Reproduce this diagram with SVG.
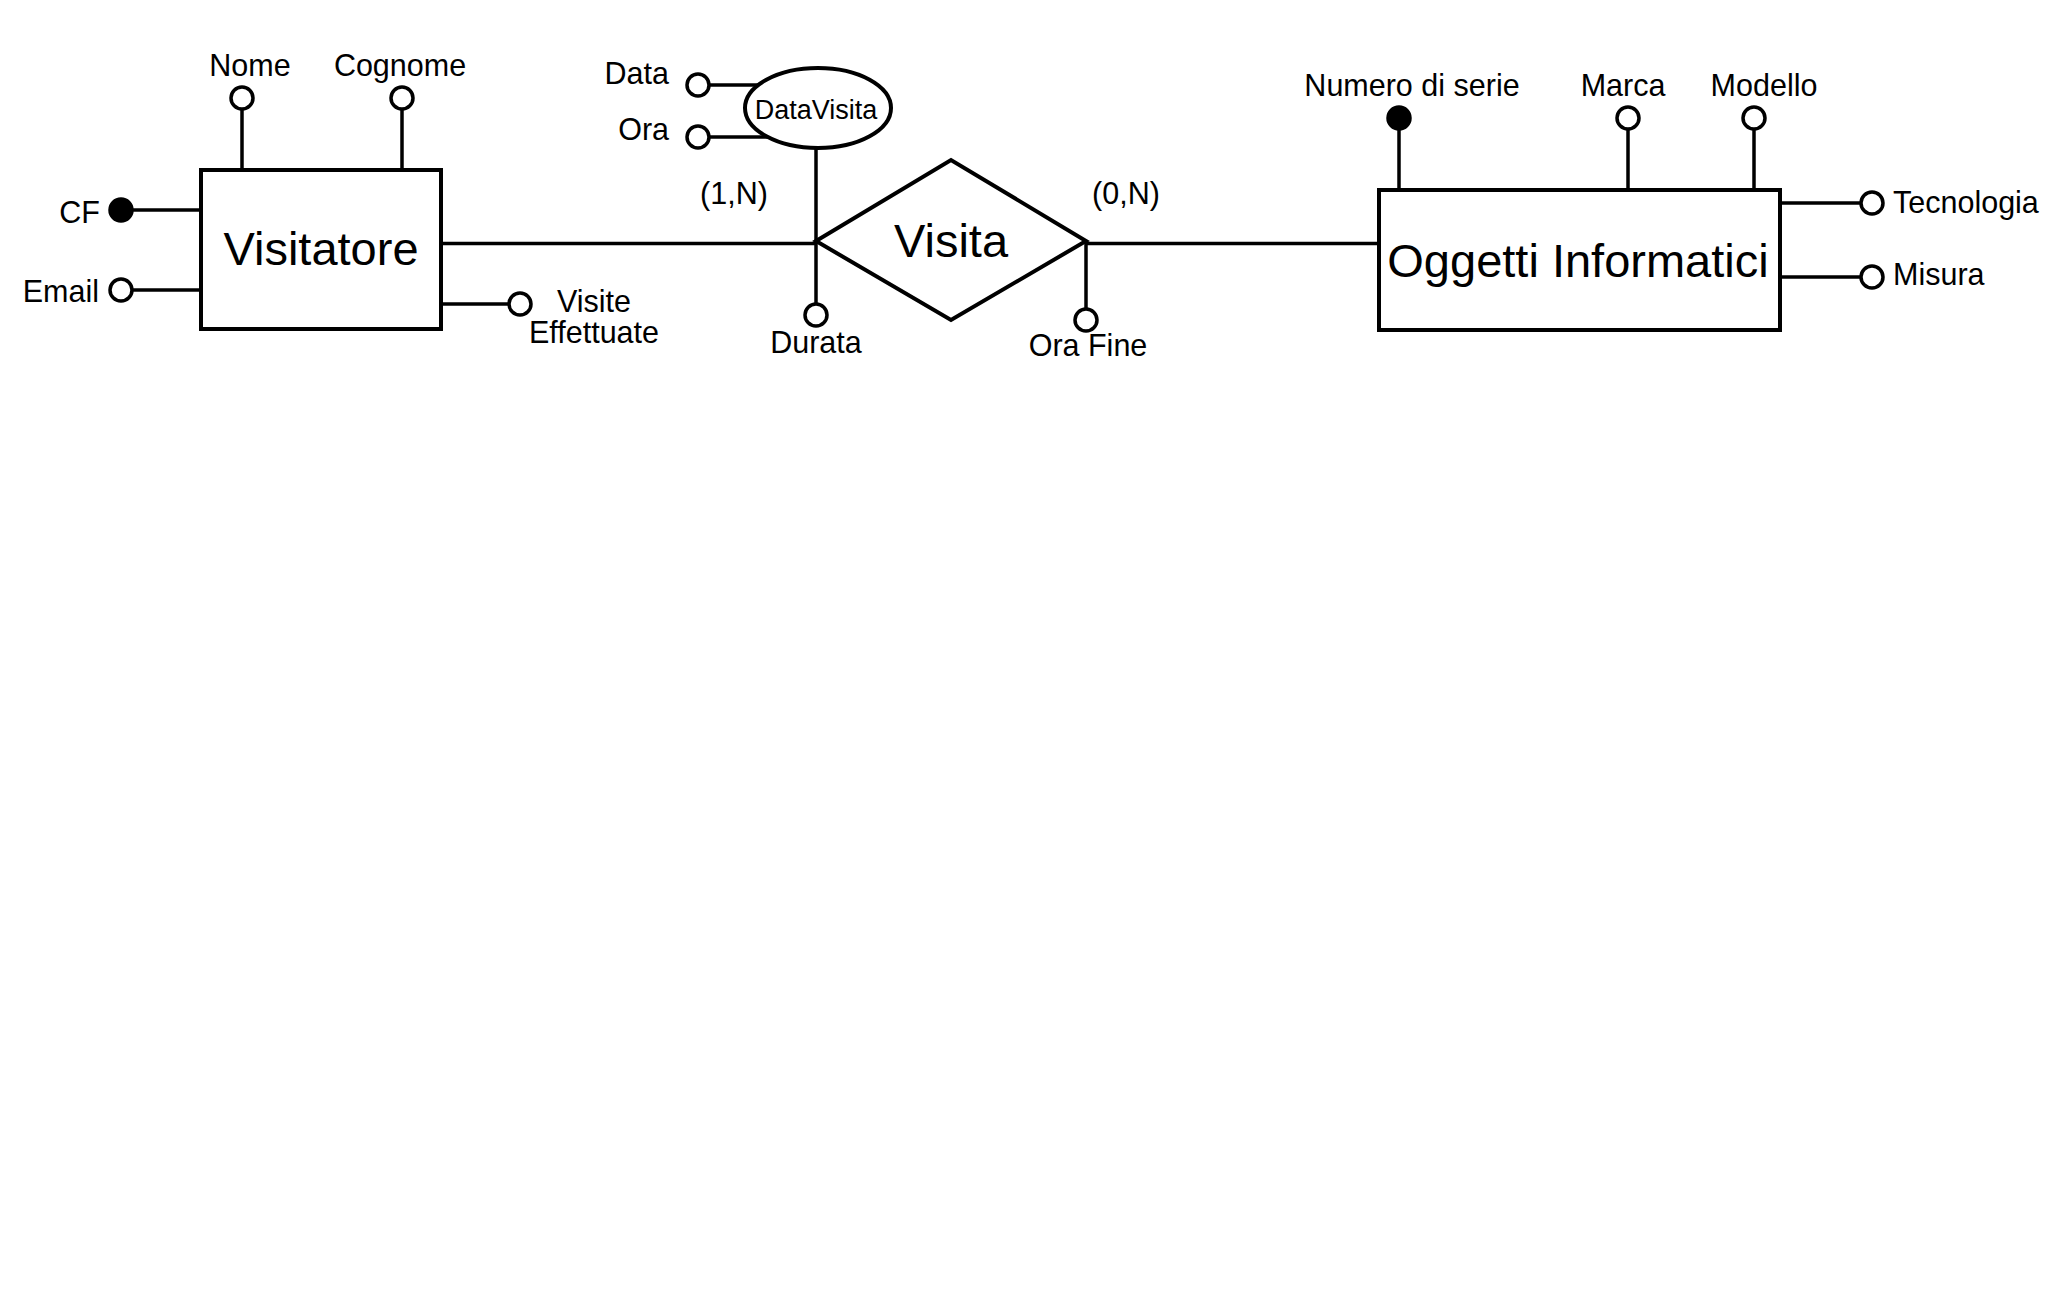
<svg xmlns="http://www.w3.org/2000/svg" width="2064" height="1300" viewBox="0 0 2064 1300">
<style>
  .box { fill: #ffffff; stroke: #000000; stroke-width: 4; }
  .ln { stroke: #000000; stroke-width: 3.5; fill: none; }
  .att { fill: #ffffff; stroke: #000000; stroke-width: 3.5; }
  .key { fill: #000000; stroke: #000000; stroke-width: 3.5; }
  text { font-family: "Liberation Sans", Arial, Helvetica, sans-serif; fill: #000000; dominant-baseline: central; }
  .big { font-size: 47px; text-anchor: middle; }
  .lbl { font-size: 30.5px; }
  .mid { text-anchor: middle; }
  .end { text-anchor: end; }
  .small { font-size: 27px; text-anchor: middle; }
</style>
<rect width="2064" height="1300" fill="#ffffff"/>
<g id="connectors">
  <line class="ln" x1="441" y1="243.5" x2="816" y2="243.5"/>
  <line class="ln" x1="1086" y1="243.5" x2="1379" y2="243.5"/>
  <line class="ln" x1="242" y1="109" x2="242" y2="170"/>
  <line class="ln" x1="402" y1="109" x2="402" y2="170"/>
  <line class="ln" x1="132" y1="210" x2="201" y2="210"/>
  <line class="ln" x1="132" y1="290" x2="201" y2="290"/>
  <line class="ln" x1="441" y1="304" x2="509" y2="304"/>
  <line class="ln" x1="816" y1="149" x2="816" y2="304"/>
  <line class="ln" x1="1086" y1="241" x2="1086" y2="309"/>
  <line class="ln" x1="709" y1="85" x2="760" y2="85"/>
  <line class="ln" x1="709" y1="137" x2="771" y2="137"/>
  <line class="ln" x1="1399" y1="129" x2="1399" y2="190"/>
  <line class="ln" x1="1628" y1="129" x2="1628" y2="190"/>
  <line class="ln" x1="1754" y1="129" x2="1754" y2="190"/>
  <line class="ln" x1="1780" y1="203" x2="1861" y2="203"/>
  <line class="ln" x1="1780" y1="277" x2="1861" y2="277"/>
</g>
<g id="Visitatore">
  <rect class="box" x="201" y="170" width="240" height="159"/>
  <text class="big" x="321" y="248">Visitatore</text>
</g>
<g id="attr-Nome">
  <circle class="att" cx="242" cy="98" r="11"/>
  <text class="lbl mid" x="250" y="65">Nome</text>
</g>
<g id="attr-Cognome">
  <circle class="att" cx="402" cy="98" r="11"/>
  <text class="lbl mid" x="400" y="65">Cognome</text>
</g>
<g id="attr-CF">
  <circle class="key" cx="121" cy="210" r="11"/>
  <text class="lbl end" x="100" y="212">CF</text>
</g>
<g id="attr-Email">
  <circle class="att" cx="121" cy="290" r="11"/>
  <text class="lbl end" x="99" y="291">Email</text>
</g>
<g id="attr-VisiteEffettuate">
  <circle class="att" cx="520" cy="304" r="11"/>
  <text class="lbl mid" x="594" y="301">Visite</text>
  <text class="lbl mid" x="594" y="332">Effettuate</text>
</g>
<g id="Visita">
  <polygon class="box" points="816,241 951,160 1086,241 951,320"/>
  <text class="big" x="951" y="240">Visita</text>
</g>
<g id="card-1N">
  <text class="lbl mid" x="734" y="193">(1,N)</text>
</g>
<g id="card-0N">
  <text class="lbl mid" x="1126" y="193">(0,N)</text>
</g>
<g id="DataVisita">
  <ellipse class="box" cx="818" cy="108" rx="73" ry="40"/>
  <text class="small" x="816" y="110">DataVisita</text>
</g>
<g id="attr-Data">
  <circle class="att" cx="698" cy="85" r="11"/>
  <text class="lbl end" x="669" y="73">Data</text>
</g>
<g id="attr-Ora">
  <circle class="att" cx="698" cy="137" r="11"/>
  <text class="lbl end" x="669" y="129">Ora</text>
</g>
<g id="attr-Durata">
  <circle class="att" cx="816" cy="315" r="11"/>
  <text class="lbl mid" x="816" y="342">Durata</text>
</g>
<g id="attr-OraFine">
  <circle class="att" cx="1086" cy="320" r="11"/>
  <text class="lbl mid" x="1088" y="345">Ora Fine</text>
</g>
<g id="OggettiInformatici">
  <rect class="box" x="1379" y="190" width="401" height="140"/>
  <text class="big" x="1578" y="260">Oggetti Informatici</text>
</g>
<g id="attr-NumeroSerie">
  <circle class="key" cx="1399" cy="118" r="11"/>
  <text class="lbl mid" x="1412" y="85">Numero di serie</text>
</g>
<g id="attr-Marca">
  <circle class="att" cx="1628" cy="118" r="11"/>
  <text class="lbl mid" x="1623" y="85">Marca</text>
</g>
<g id="attr-Modello">
  <circle class="att" cx="1754" cy="118" r="11"/>
  <text class="lbl mid" x="1764" y="85">Modello</text>
</g>
<g id="attr-Tecnologia">
  <circle class="att" cx="1872" cy="203" r="11"/>
  <text class="lbl" x="1893" y="202">Tecnologia</text>
</g>
<g id="attr-Misura">
  <circle class="att" cx="1872" cy="277" r="11"/>
  <text class="lbl" x="1893" y="274">Misura</text>
</g>
</svg>
